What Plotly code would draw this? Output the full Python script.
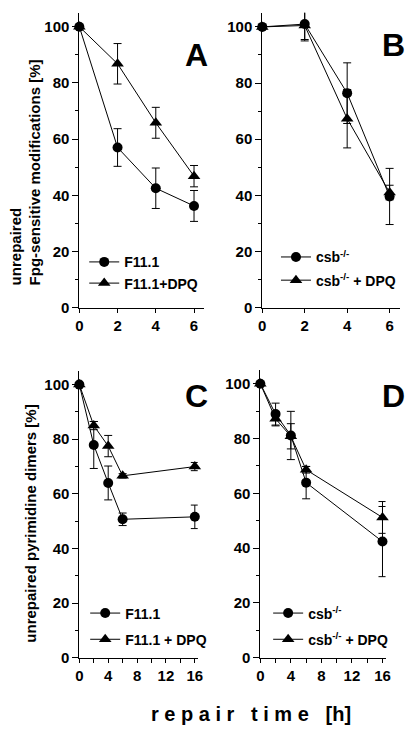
import plotly.graph_objects as go

# ---------------- data ----------------
x_top = [0, 2, 4, 6]
x_bot = [0, 2, 4, 6, 16]

# Panel A
a_f11 = [100, 57, 42.5, 36.2]
a_f11_err = [0, 6.7, 7.2, 5.5]
a_dpq = [100, 86.8, 65.8, 46.8]
a_dpq_err = [0, 7.2, 5.5, 3.8]

# Panel B
b_csb = [100, 101, 76.4, 39.6]
b_csb_err = [0, 6, 10.8, 10]
b_dpq = [100, 100.5, 67.3, 41]
b_dpq_err = [0, 5, 10.4, 2.6]

# Panel C
c_f11 = [100, 77.9, 64, 50.7, 51.6]
c_f11_err = [0, 8.6, 6.2, 2.3, 4.3]
c_dpq = [100, 85, 77.5, 66.6, 70]
c_dpq_err = [0, 1.5, 3.9, 0.8, 1.5]

# Panel D
d_csb = [100, 88.9, 81.1, 63.9, 42.4]
d_csb_err = [0, 4, 8.8, 5.9, 12.8]
d_dpq = [100, 87.2, 80.8, 68.6, 51.2]
d_dpq_err = [0, 2.6, 4.6, 1.2, 5.8]

y_ticks = [0, 20, 40, 60, 80, 100]
x_top_ticks = [0, 2, 4, 6]
x_bot_ticks = [0, 4, 8, 12, 16]

FONT = "Liberation Sans"
W, H = 415, 740

def px(x):
    return x / W

def py(y):
    return 1 - y / H

fig = go.Figure()

def add_series(xs, ys, errs, name, symbol, size, xa, ya, legend):
    fig.add_trace(go.Scatter(
        x=xs, y=ys, name=name, mode="lines+markers",
        line=dict(color="black", width=1),
        marker=dict(symbol=symbol, size=size, color="black"),
        error_y=dict(type="data", array=errs, visible=True, color="black",
                     thickness=1, width=4),
        xaxis=xa, yaxis=ya, legend=legend, legendgroup=name + legend,
        cliponaxis=False,
    ))

add_series(x_top, a_f11, a_f11_err, "F11.1", "circle", 10, "x", "y", "legend")
add_series(x_top, a_dpq, a_dpq_err, "F11.1+DPQ", "triangle-up", 11, "x", "y", "legend")
add_series(x_top, b_csb, b_csb_err, "csb<sup>-/-</sup>", "circle", 10, "x2", "y2", "legend2")
add_series(x_top, b_dpq, b_dpq_err, "csb<sup>-/-</sup> + DPQ", "triangle-up", 11, "x2", "y2", "legend2")
add_series(x_bot, c_f11, c_f11_err, "F11.1", "circle", 10, "x3", "y3", "legend3")
add_series(x_bot, c_dpq, c_dpq_err, "F11.1 + DPQ", "triangle-up", 11, "x3", "y3", "legend3")
add_series(x_bot, d_csb, d_csb_err, "csb<sup>-/-</sup>", "circle", 10, "x4", "y4", "legend4")
add_series(x_bot, d_dpq, d_dpq_err, "csb<sup>-/-</sup> + DPQ", "triangle-up", 11, "x4", "y4", "legend4")

tickfont = dict(family=FONT, size=15, color="black", weight="bold")

def xaxis(domain, rng, ticks, minor_dtick=None):
    d = dict(domain=domain, range=rng, tickvals=ticks, showline=True,
             linecolor="black", linewidth=1, ticks="outside", ticklen=4,
             tickwidth=1, tickcolor="black", showgrid=False, zeroline=False,
             tickfont=tickfont, fixedrange=True)
    if minor_dtick:
        d["minor"] = dict(ticks="outside", ticklen=4, dtick=minor_dtick,
                          tickcolor="black", tickwidth=1, showgrid=False)
    return d

def yaxis(domain, anchor):
    return dict(domain=domain, range=[0, 105], tickvals=y_ticks, showline=True,
                linecolor="black", linewidth=1, ticks="outside", ticklen=6,
                tickwidth=1, tickcolor="black", showgrid=False, zeroline=False,
                tickfont=tickfont, anchor=anchor,
                minor=dict(ticks="outside", ticklen=3, dtick=10, tickcolor="black",
                           tickwidth=1, showgrid=False), fixedrange=True)

# axis domains (pixel positions converted to paper)
fig.update_layout(
    xaxis=dict(xaxis([px(77), px(204)], [0, 6.5], x_top_ticks), anchor="y"),
    yaxis=yaxis([py(311), py(12.8)], "x"),
    xaxis2=dict(xaxis([px(264), px(405)], [0, 6.5], x_top_ticks), anchor="y2"),
    yaxis2=yaxis([py(311), py(13)], "x2"),
    xaxis3=dict(xaxis([px(77), px(198)], [0, 16.4], x_bot_ticks, 2), anchor="y3"),
    yaxis3=yaxis([py(665), py(375)], "x3"),
    xaxis4=dict(xaxis([px(262), px(390)], [0, 16.4], x_bot_ticks, 2), anchor="y4"),
    yaxis4=yaxis([py(665), py(374)], "x4"),
)

legfont = dict(family=FONT, size=14, color="black", weight="bold")

def legend(x, y, gap, order):
    return dict(x=px(x), y=py(y), xanchor="left", yanchor="top",
                bgcolor="rgba(0,0,0,0)", borderwidth=0, font=legfont,
                tracegroupgap=gap, itemwidth=30, traceorder=order)

fig.update_layout(
    legend=legend(82, 249, 0, "normal"),
    legend2=legend(278, 244, 2, "grouped"),
    legend3=legend(83, 604, 5, "grouped"),
    legend4=legend(270, 604, 5, "grouped"),
    showlegend=True,
)

annos = []
# panel letters
for txt, x, y in [("A", 197, 56), ("B", 398, 45), ("C", 197, 400), ("D", 398, 400)]:
    annos.append(dict(text=txt, x=px(x), y=py(y), xref="paper", yref="paper",
                      showarrow=False, xanchor="center", yanchor="middle",
                      font=dict(family=FONT, size=32, color="black", weight="bold")))

titlefont = dict(family=FONT, size=15, color="black", weight="bold")
annos.append(dict(text="unrepaired<br>Fpg-sensitive modifications [%]",
                  x=px(22), y=py(291), xref="paper", yref="paper", showarrow=False,
                  textangle=-90, xanchor="center", yanchor="bottom", align="left",
                  font=titlefont))
annos.append(dict(text="unrepaired pyrimidine dimers [%]",
                  x=px(27), y=py(529), xref="paper", yref="paper", showarrow=False,
                  textangle=-90, xanchor="center", yanchor="middle",
                  font=titlefont))
annos.append(dict(text="r\u00a0e\u00a0p\u00a0a\u00a0i\u00a0r\u00a0\u00a0\u00a0t\u00a0i\u00a0m\u00a0e\u00a0\u00a0\u00a0[h]",
                  x=px(252), y=py(722), xref="paper", yref="paper", showarrow=False,
                  xanchor="center", yanchor="middle",
                  font=dict(family=FONT, size=20, color="black", weight="bold")))

fig.update_layout(
    annotations=annos,
    width=W, height=H,
    margin=dict(l=0, r=0, t=0, b=0),
    paper_bgcolor="white", plot_bgcolor="white",
    font=dict(family=FONT, color="black"),
)

fig.write_html("out.html", config={"displayModeBar": False},
               post_script="document.body.style.margin='0';document.body.style.overflow='hidden';")
